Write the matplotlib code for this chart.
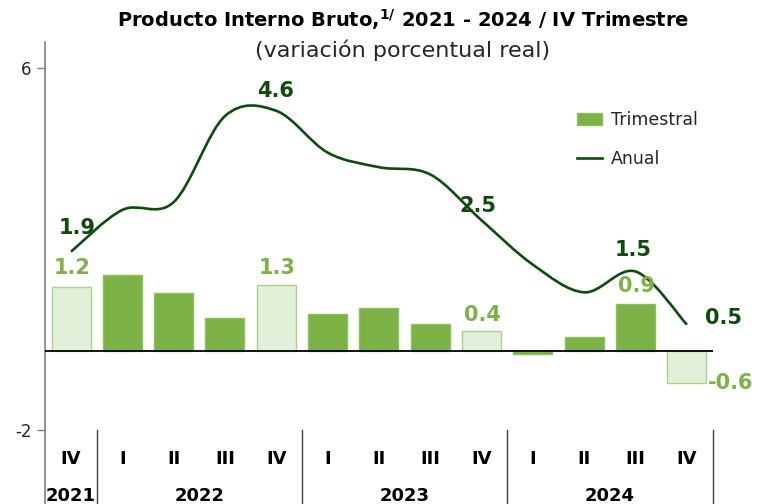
import matplotlib
matplotlib.use("Agg")
import matplotlib.pyplot as plt
import matplotlib.transforms as mtransforms
from matplotlib.path import Path
from matplotlib.patches import PathPatch, Patch
from matplotlib.lines import Line2D

# quarters 2021-IV ... 2024-IV
quarters = ["IV", "I", "II", "III", "IV", "I", "II", "III", "IV", "I", "II", "III", "IV"]
years = ["2021", "2022", "2023", "2024"]
year_first = [0, 1, 5, 9]
year_last = [0, 4, 8, 12]

trimestral = [1.22, 1.46, 1.10, 0.63, 1.26, 0.71, 0.82, 0.52, 0.37, -0.06, 0.27, 0.89, -0.62]
anual = [1.9, 2.7, 2.85, 4.5, 4.6, 3.8, 3.52, 3.38, 2.5, 1.65, 1.12, 1.52, 0.5]

# which points get a value label
labelled = [0, 4, 8, 11, 12]
light_bars = [0, 4, 8, 12]

GREEN = "#7CB246"
LIGHT = "#E2EFD9"
LIGHT_EDGE = "#A9D18E"
DARK = "#0F4A0F"
FONT = "DejaVu Sans"

# label offsets in pixels (dx, dy) from the value
bar_off = {0: (1, 19), 4: (1, 17), 8: (1, 16), 11: (1, 18), 12: (44, 0)}
line_off = {0: (6, 24), 4: (-1, 20), 8: (-4, 14), 11: (-2, 21), 12: (37, 7)}


def smooth_path(xs, ys):
    # bezier smoothing like spreadsheet "smoothed line"
    pts = list(zip(xs, ys))
    n = len(pts)
    verts = [pts[0]]
    codes = [Path.MOVETO]
    for i in range(n - 1):
        p0 = pts[max(i - 1, 0)]
        p1 = pts[i]
        p2 = pts[i + 1]
        p3 = pts[min(i + 2, n - 1)]
        c1 = (p1[0] + (p2[0] - p0[0]) / 6, p1[1] + (p2[1] - p0[1]) / 6)
        c2 = (p2[0] - (p3[0] - p1[0]) / 6, p2[1] - (p3[1] - p1[1]) / 6)
        verts += [c1, c2, p2]
        codes += [Path.CURVE4] * 3
    return Path(verts, codes)


W, H = 758, 504
fig = plt.figure(figsize=(W / 100, H / 100), dpi=100)
ax = fig.add_axes([45.35 / W, 74 / H, 667.25 / W, 388 / H])
ax2 = ax.twinx()

x = list(range(len(quarters)))

# primary axis only shows the -2 / 6 scale
ax.set_xlim(-0.5, len(quarters) - 0.5)
ax.set_ylim(-2, 6.565)
ax.set_yticks([-2, 6])
ax.set_yticklabels(["-2", "6"], fontsize=12, color="#262626", family=FONT)
ax.tick_params(axis="y", length=6, width=1, color="#808080", pad=4)
ax.tick_params(axis="x", length=0, labelbottom=False)
for s in ["top", "right", "bottom"]:
    ax.spines[s].set_visible(False)
ax.spines["left"].set_color("#808080")
ax.spines["left"].set_linewidth(1.2)

# data axis
ax2.set_ylim(-1.519, 5.92)
ax2.set_yticks([])
for s in ax2.spines.values():
    s.set_visible(False)

colors = [LIGHT if i in light_bars else GREEN for i in x]
edges = [LIGHT_EDGE if i in light_bars else "#8CC05A" for i in x]
ax2.bar(x, trimestral, width=0.76, color=colors, edgecolor=edges, linewidth=1, zorder=2)
ax2.axhline(0, color="black", linewidth=1.3, zorder=3)

path = smooth_path(x, anual)
ax2.add_patch(PathPatch(path, facecolor="none", edgecolor=DARK, linewidth=1.9, zorder=4))

for i in labelled:
    dx, dy = bar_off[i]
    ax2.annotate(f"{trimestral[i]:.1f}", (x[i], trimestral[i]), xytext=(dx, dy),
                 textcoords="offset pixels", ha="center", va="center",
                 fontsize=15, fontweight="bold", color=GREEN, family=FONT, zorder=5)
    dx, dy = line_off[i]
    ax2.annotate(f"{anual[i]:.1f}", (x[i], anual[i]), xytext=(dx, dy),
                 textcoords="offset pixels", ha="center", va="center",
                 fontsize=15, fontweight="bold", color=DARK, family=FONT, zorder=5)

# category axis with quarter and year rows
trans = mtransforms.blended_transform_factory(ax.transData, ax.transAxes)
bottom = -75 / 388
for i, q in enumerate(quarters):
    ax.text(i, -29 / 388, q, transform=trans, ha="center", va="center",
            fontsize=13, fontweight="bold", color="black", family=FONT)
for yr, a, b in zip(years, year_first, year_last):
    ax.text((a + b) / 2, -66 / 388, yr, transform=trans, ha="center", va="center",
            fontsize=13, fontweight="bold", color="black", family=FONT)
for b in [-0.5] + [v + 0.5 for v in year_last]:
    ax.plot([b, b], [0, bottom], transform=trans, color="#808080" if b < 0 else "#404040",
            linewidth=1.2 if b < 0 else 1, clip_on=False)

handles = [Patch(facecolor=GREEN, edgecolor="#8CC05A", label="Trimestral"),
           Line2D([], [], color=DARK, linewidth=1.9, label="Anual")]
leg = ax2.legend(handles=handles, loc="upper left", bbox_to_anchor=(577 / W, 1 - 111 / H),
                 bbox_transform=fig.transFigure, frameon=False,
                 prop={"family": FONT, "size": 12.5}, handlelength=1.45, handleheight=0.66,
                 labelspacing=1.2, handletextpad=0.5, borderpad=0, borderaxespad=0)
for t in leg.get_texts():
    t.set_color("#262626")

fig.text(403.5 / W, 1 - 20 / H, "Producto Interno Bruto,$^{\\mathregular{1/}}$ 2021 - 2024 / IV Trimestre",
         ha="center", va="center", fontsize=14, fontweight="bold", family=FONT)
fig.text(402.5 / W, 1 - 50 / H, "(variación porcentual real)", ha="center", va="center",
         fontsize=16, color="#262626", family=FONT)

fig.savefig("out.png", dpi=100)
